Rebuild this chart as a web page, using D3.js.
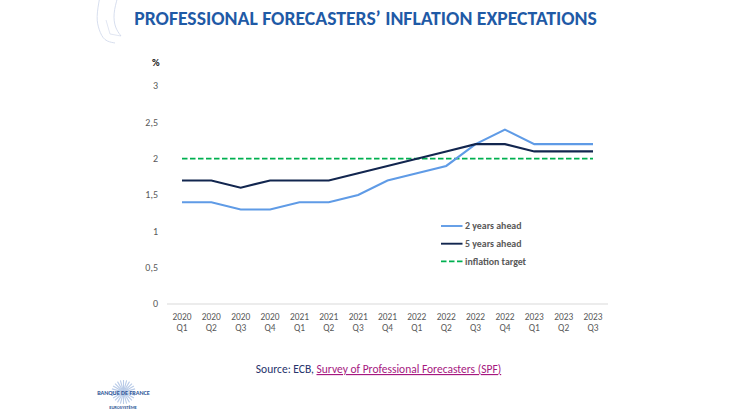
<!DOCTYPE html>
<html>
<head>
<meta charset="utf-8">
<script src="https://cdn.jsdelivr.net/npm/d3@7"></script>
<style>
html, body { margin: 0; padding: 0; background: #fff; }
text { font-family: Carlito, "Open Sans", "Noto Sans", sans-serif; }
</style>
</head>
<body>
<div id="chart"></div>
<script>
var quarters = ["2020 Q1","2020 Q2","2020 Q3","2020 Q4","2021 Q1","2021 Q2","2021 Q3","2021 Q4","2022 Q1","2022 Q2","2022 Q3","2022 Q4","2023 Q1","2023 Q2","2023 Q3"];
var twoYears = [1.4,1.4,1.3,1.3,1.4,1.4,1.5,1.7,1.8,1.9,2.2,2.4,2.2,2.2,2.2];
var fiveYears = [1.7,1.7,1.6,1.7,1.7,1.7,1.8,1.9,2.0,2.1,2.2,2.2,2.1,2.1,2.1];
var target = [2,2,2,2,2,2,2,2,2,2,2,2,2,2,2];
var yTicks = [0,0.5,1,1.5,2,2.5,3];
var legendItems = ["2 years ahead","5 years ahead","inflation target"];

var svg = d3.select("#chart").append("svg")
    .attr("width", 730)
    .attr("height", 410);

var x = d3.scalePoint().domain(quarters).range([182, 593]);
var y = d3.scaleLinear().domain([0, 3]).range([304, 86]);

// title
svg.append("text")
    .attr("x", 365.5).attr("y", 24.5)
    .attr("text-anchor", "middle")
    .attr("font-size", 19.7)
    .attr("font-weight", "bold")
    .attr("fill", "#1f5aa6")
    .text("PROFESSIONAL FORECASTERS\u2019 INFLATION EXPECTATIONS");

// faint logo arcs top left
var arc = d3.line();
var outerArc = d3.line().curve(d3.curveBasis);
svg.append("path")
    .attr("d", outerArc([[100,-4],[96,18],[99,30],[104,41],[115,43]]))
    .attr("fill", "none").attr("stroke", "#cdd5ea").attr("stroke-width", 0.8);
svg.append("path")
    .attr("d", outerArc([[118,-4],[113,14],[115,28],[121,36]]))
    .attr("fill", "none").attr("stroke", "#cdd5ea").attr("stroke-width", 0.8);
svg.append("path")
    .attr("d", arc([[121,36],[110,34],[106,20]]))
    .attr("fill", "none").attr("stroke", "#cdd5ea").attr("stroke-width", 0.6);

// y axis
svg.selectAll(".ytick").data(yTicks).enter().append("text")
    .attr("class", "ytick")
    .attr("x", 158)
    .attr("y", function(d) { return y(d) + 3.3; })
    .attr("text-anchor", "end")
    .attr("font-size", 10)
    .attr("fill", "#595959")
    .text(function(d) { return String(d).replace(".", ","); });

svg.append("text")
    .attr("x", 152).attr("y", 66)
    .attr("font-size", 10.5)
    .attr("font-weight", "bold")
    .attr("fill", "#222")
    .text("%");

// x axis
svg.append("line")
    .attr("x1", 167).attr("x2", 608)
    .attr("y1", y(0)).attr("y2", y(0))
    .attr("stroke", "#d9d9d9");

var xTick = svg.selectAll(".xtick").data(quarters).enter().append("text")
    .attr("class", "xtick")
    .attr("text-anchor", "middle")
    .attr("font-size", 9.4)
    .attr("fill", "#595959");
xTick.append("tspan")
    .attr("x", function(d) { return x(d); })
    .attr("y", 319.5)
    .text(function(d) { return d.split(" ")[0]; });
xTick.append("tspan")
    .attr("x", function(d) { return x(d); })
    .attr("y", 330.5)
    .text(function(d) { return d.split(" ")[1]; });

// lines
var line = d3.line()
    .x(function(d, i) { return x(quarters[i]); })
    .y(function(d) { return y(d); });

svg.append("path").attr("d", line(target)).attr("fill", "none")
    .attr("stroke", "#00b050").attr("stroke-width", 1.9).attr("stroke-dasharray", "5.5,2.5");
svg.append("path").attr("d", line(twoYears)).attr("fill", "none")
    .attr("stroke", "#5f9be6").attr("stroke-width", 2.1);
svg.append("path").attr("d", line(fiveYears)).attr("fill", "none")
    .attr("stroke", "#12264f").attr("stroke-width", 2.1);

// legend
var legendColors = ["#5f9be6","#12264f","#00b050"];
legendItems.forEach(function(name, i) {
    var ly = 226 + i * 17.7;
    svg.append("line")
        .attr("x1", 441).attr("x2", 462.5).attr("y1", ly).attr("y2", ly)
        .attr("stroke", legendColors[i]).attr("stroke-width", 1.9)
        .attr("stroke-dasharray", i == 2 ? "5.5,2.5" : null);
    svg.append("text")
        .attr("x", 465).attr("y", ly + 3.2)
        .attr("font-size", 9.9)
        .attr("font-weight", "bold")
        .attr("fill", "#595959")
        .text(name);
});

// source
var source = svg.append("text")
    .attr("x", 378.5).attr("y", 373)
    .attr("text-anchor", "middle")
    .attr("font-size", 11.5)
    .attr("fill", "#26336b");
source.append("tspan").text("Source: ECB, ");
source.append("tspan")
    .attr("fill", "#a6177f")
    .attr("text-decoration", "underline")
    .text("Survey of Professional Forecasters (SPF)");

// logo: pale star behind the name
var rays = d3.range(24).map(function(i) { return i * Math.PI / 12; });
svg.selectAll(".ray").data(rays).enter().append("line")
    .attr("class", "ray")
    .attr("x1", 123.5).attr("y1", 392)
    .attr("x2", function(d) { return 123.5 + 12 * Math.cos(d); })
    .attr("y2", function(d) { return 392 + 12 * Math.sin(d); })
    .attr("stroke", "#b9cbe8").attr("stroke-width", 1.1);
svg.append("text")
    .attr("x", 123.5).attr("y", 395)
    .attr("text-anchor", "middle")
    .attr("font-size", 6.2)
    .attr("font-weight", "bold")
    .attr("fill", "#2f5597")
    .text("BANQUE DE FRANCE");
svg.append("text")
    .attr("x", 123).attr("y", 409)
    .attr("text-anchor", "middle")
    .attr("font-size", 4.5)
    .attr("font-weight", "bold")
    .attr("fill", "#2f5597")
    .text("EUROSYST\u00c8ME");
</script>
</body>
</html>
